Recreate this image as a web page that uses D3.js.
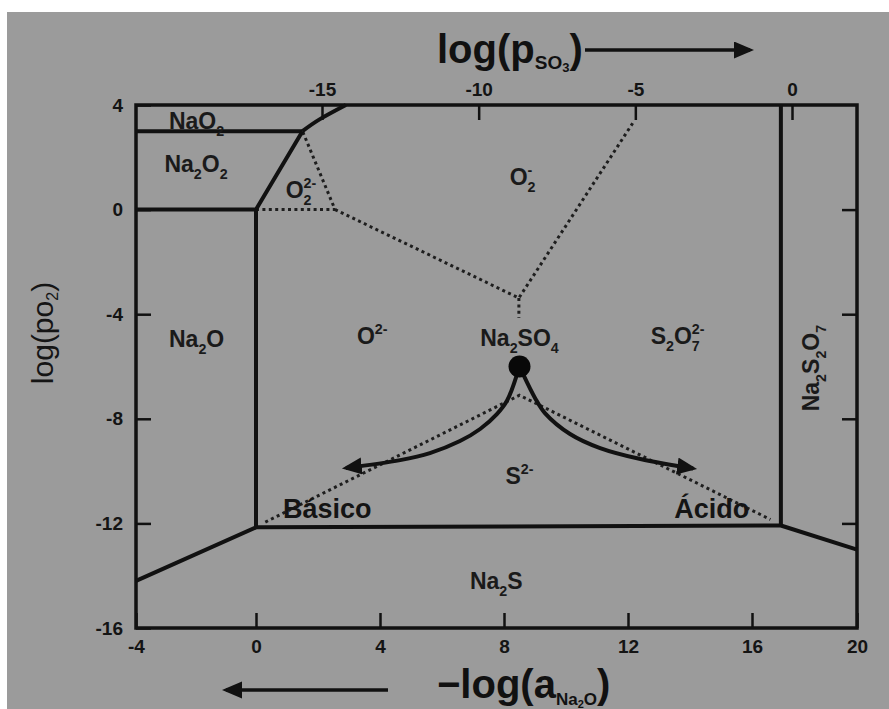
<!DOCTYPE html>
<html>
<head>
<meta charset="utf-8">
<script src="https://cdn.jsdelivr.net/npm/d3@7"></script>
<style>
  body { margin: 0; background: #fff; }
  svg text { font-family: "Liberation Sans", Arial, Helvetica, sans-serif; }
</style>
</head>
<body>
<svg id="chart" width="889" height="709"></svg>
<script>
// Predominance diagram for the Na–S–O melt:
// x = -log(a Na2O), y = log(p O2), top axis = log(p SO3)

const xTicks = [-4, 0, 4, 8, 12, 16, 20];
const yTicks = [4, 0, -4, -8, -12, -16];
const yInnerTicks = [0, -4, -8, -12];
const so3Ticks = [-15, -10, -5, 0];

// solid phase boundaries, [x, y] in axis units
const boundNaO2 = [[-4, 3], [1.5, 3]];
const boundNaO2Curve = [[1.5, 3], [2.05, 3.45], [2.9, 4]];
const boundNa2O2 = [[-4, 0], [0, 0], [1.5, 3]];
const boundNa2O = [[0, 0], [0, -12.15]];
const boundNa2S = [[-4, -14.2], [0, -12.15], [17.1, -12.08], [20, -13.0]];
const boundNa2S2O7 = [[17.1, 4], [17.1, -12.08]];

// dotted lines between the dominant anions
const dotO22 = [[0, 0], [2.55, 0], [1.5, 3]];
const dotO2 = [[2.55, 0], [8.48, -3.38], [12.15, 3.3]];
const dotSO4 = [[8.48, -3.38], [8.48, -4.15]];
const dotS2 = [[0.3, -11.95], [8.5, -7.1], [16.7, -11.85]];

// Na2SO4 reference point and the basic / acidic reaction paths
const so4Point = [8.5, -6.0];
const pathBasic = [[8.42, -6.3], [8.1, -7.3], [7.77, -7.82], [7.23, -8.39], [6.58, -8.85], [5.61, -9.31], [4.65, -9.58], [2.9, -9.88]];
const pathAcid = [[8.62, -6.3], [9.0, -7.2], [9.32, -7.78], [10.13, -8.58], [11.1, -9.12], [12.4, -9.54], [14.1, -9.9]];

// region names ("_" subscript, "^" superscript) anchored in axis units
const regionNames = ["NaO_2", "Na_2O_2", "O_2^{2-}", "O_2^-", "Na_2O", "O^{2-}", "Na_2SO_4", "S_2O_7^{2-}", "S^{2-}", "Na_2S"];
const regionX = [-1.98, -2.0, 1.45, 8.6, -1.98, 3.75, 8.5, 13.6, 8.5, 7.75];
const regionY = [3.37, 1.75, 0.75, 1.25, -4.95, -4.85, -4.9, -4.85, -10.2, -14.2];
const sideName = "Na_2S_2O_7";
const sidePos = [18.25, -6.06];
const pathNames = ["Básico", "Ácido"];
const pathNameX = [2.3, 14.7];
const pathNameY = [-11.4, -11.4];

const W = 889, H = 709;
const ink = "#111";
const svg = d3.select("#chart");

// panel background
svg.append("rect").attr("x", 7).attr("y", 12).attr("width", W - 7).attr("height", H - 12).attr("fill", "#9b9b9b");

// the printed x axis is slightly compressed on its last interval
const x = d3.scaleLinear().domain([-4, 0, 16, 20]).range([136, 256, 752, 857]);
const y = d3.scaleLinear().domain([-16, 4]).range([628, 105]);
const xTop = d3.scaleLinear().domain([-15, 0]).range([322, 792]);

const line = d3.line().x(d => x(d[0])).y(d => y(d[1]));
const smooth = d3.line().x(d => x(d[0])).y(d => y(d[1])).curve(d3.curveCatmullRom);

const defs = svg.append("defs");
defs.append("marker").attr("id", "head")
  .attr("markerUnits", "userSpaceOnUse")
  .attr("markerWidth", 22).attr("markerHeight", 18)
  .attr("refX", 16).attr("refY", 8.5).attr("orient", "auto")
  .append("path").attr("d", "M0,0 L20,8.5 L0,17 Z").attr("fill", ink);

// axes with inward ticks
const fmt = d => String(d);
function styleAxis(g) {
  g.select(".domain").remove();
  g.selectAll(".tick line").attr("stroke", ink).attr("stroke-width", 2.5);
  g.selectAll(".tick text").attr("fill", "#141414").attr("font-size", 19).attr("font-weight", "bold")
    .attr("font-family", "'Liberation Sans', Arial, sans-serif");
}
svg.append("g").attr("transform", `translate(0,${y(-16)})`)
  .call(d3.axisBottom(x).tickValues(xTicks).tickFormat(fmt).tickSize(-15).tickPadding(12)).call(styleAxis);
svg.append("g").attr("transform", `translate(${x(-4)},0)`)
  .call(d3.axisLeft(y).tickValues(yTicks).tickFormat(fmt).tickSize(-15).tickPadding(13)).call(styleAxis);
svg.append("g").attr("transform", `translate(${x(20)},0)`)
  .call(d3.axisRight(y).tickValues(yInnerTicks).tickFormat("").tickSize(-15)).call(styleAxis);
svg.append("g").attr("transform", `translate(0,${y(4)})`)
  .call(d3.axisTop(xTop).tickValues(so3Ticks).tickFormat(fmt).tickSize(-15).tickPadding(9)).call(styleAxis);

// frame
svg.append("rect")
  .attr("x", x(-4)).attr("y", y(4))
  .attr("width", x(20) - x(-4)).attr("height", y(-16) - y(4))
  .attr("fill", "none").attr("stroke", ink).attr("stroke-width", 3.5);

// dotted anion boundaries
[dotO22, dotO2, dotSO4, dotS2].forEach(d => {
  svg.append("path").attr("d", line(d)).attr("fill", "none")
    .attr("stroke", "#1e1e1e").attr("stroke-width", 3)
    .attr("stroke-dasharray", "3 3.4");
});

// solid phase boundaries
[boundNaO2, boundNa2O2, boundNa2O, boundNa2S, boundNa2S2O7].forEach(d => {
  svg.append("path").attr("d", line(d)).attr("fill", "none")
    .attr("stroke", ink).attr("stroke-width", 4).attr("stroke-linejoin", "round");
});
svg.append("path").attr("d", d3.line().x(d => x(d[0])).y(d => y(d[1])).curve(d3.curveNatural)(boundNaO2Curve))
  .attr("fill", "none").attr("stroke", ink).attr("stroke-width", 4);

// reaction paths
[pathBasic, pathAcid].forEach(d => {
  svg.append("path").attr("d", smooth(d)).attr("fill", "none")
    .attr("stroke", ink).attr("stroke-width", 4).attr("marker-end", "url(#head)");
});
svg.append("circle").attr("cx", x(so4Point[0])).attr("cy", y(so4Point[1])).attr("r", 11).attr("fill", "#080808");

// text with sub/superscripts
function rich(textSel, str, size) {
  const re = /_\{([^}]*)\}|_(.)|\^\{([^}]*)\}|\^(.)|([^_^]+)/g;
  let m, shift = 0, lastSub = null;
  while ((m = re.exec(str))) {
    let kind, s;
    if (m[1] !== undefined || m[2] !== undefined) { kind = "sub"; s = m[1] ?? m[2]; }
    else if (m[3] !== undefined || m[4] !== undefined) { kind = "sup"; s = m[3] ?? m[4]; }
    else { kind = "base"; s = m[5]; }
    const target = kind === "sub" ? size * 0.3 : kind === "sup" ? -size * 0.45 : 0;
    const t = textSel.append("tspan").text(s)
      .attr("dy", target - shift)
      .attr("font-size", kind === "base" ? size : size * 0.62);
    if (kind === "sup" && lastSub) t.attr("dx", -lastSub.node().getComputedTextLength());
    shift = target;
    lastSub = kind === "sub" ? t : null;
  }
}

regionNames.forEach((name, i) => {
  const t = svg.append("text")
    .attr("x", x(regionX[i])).attr("y", y(regionY[i]) + 8)
    .attr("text-anchor", "middle").attr("font-weight", "bold").attr("fill", "#1a1a1a");
  rich(t, name, 23);
});

const side = svg.append("text")
  .attr("transform", `translate(${x(sidePos[0]) + 8},${y(sidePos[1])}) rotate(-90)`)
  .attr("text-anchor", "middle").attr("font-weight", "bold").attr("fill", "#1a1a1a");
rich(side, sideName, 23);

pathNames.forEach((name, i) => {
  svg.append("text").attr("x", x(pathNameX[i])).attr("y", y(pathNameY[i]) + 10)
    .attr("text-anchor", "middle").attr("font-weight", "bold").attr("font-size", 27)
    .attr("fill", "#141414").text(name);
});

// axis titles with direction arrows
const topTitle = svg.append("text").attr("x", 437).attr("y", 63)
  .attr("font-weight", "bold").attr("font-size", 40).attr("fill", "#111");
topTitle.append("tspan").text("log(p");
topTitle.append("tspan").text("SO").attr("font-size", 19).attr("dy", 6);
topTitle.append("tspan").text("3").attr("font-size", 13).attr("dy", 3);
topTitle.append("tspan").text(")").attr("dy", -9);
svg.append("line").attr("x1", 585).attr("x2", 750).attr("y1", 50).attr("y2", 50)
  .attr("stroke", ink).attr("stroke-width", 3.5).attr("marker-end", "url(#head)");

const botTitle = svg.append("text").attr("x", 437).attr("y", 698)
  .attr("font-weight", "bold").attr("font-size", 40).attr("fill", "#111");
botTitle.append("tspan").text("−log(a");
botTitle.append("tspan").text("Na").attr("font-size", 17).attr("dy", 7);
botTitle.append("tspan").text("2").attr("font-size", 11).attr("dy", 3);
botTitle.append("tspan").text("O").attr("font-size", 17).attr("dy", -3);
botTitle.append("tspan").text(")").attr("dy", -7);
svg.append("line").attr("x1", 388).attr("x2", 226).attr("y1", 690).attr("y2", 690)
  .attr("stroke", ink).attr("stroke-width", 3.5).attr("marker-end", "url(#head)");

const yTitle = svg.append("text").attr("transform", "translate(53,333) rotate(-90)")
  .attr("text-anchor", "middle").attr("font-size", 30).attr("fill", "#151515");
yTitle.append("tspan").text("log(po");
yTitle.append("tspan").text("2").attr("font-size", 16).attr("dy", 5);
yTitle.append("tspan").text(")").attr("dy", -5);
</script>
</body>
</html>
